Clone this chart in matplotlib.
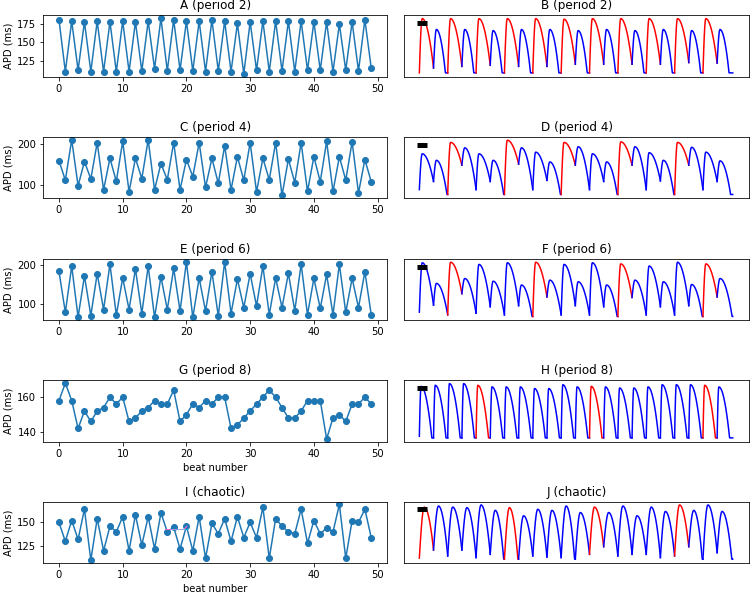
import numpy as np
import matplotlib.pyplot as plt

beats = np.arange(50)

# APD per beat (ms), left column
apd_a = [181, 110, 179, 112, 178, 110, 179, 110, 178, 110, 179, 110, 178, 111, 179, 114,
         183, 111, 181, 112, 179, 111, 179, 110, 181, 111, 179, 110, 176, 107, 178, 112,
         179, 110, 179, 111, 179, 110, 179, 112, 178, 112, 178, 110, 175, 112, 178, 111,
         181, 115]
apd_c = [159, 111, 211, 97, 157, 114, 204, 87, 165, 108, 207, 82, 165, 115, 211, 87,
         152, 112, 204, 87, 162, 120, 204, 93, 165, 103, 196, 87, 169, 111, 204, 82,
         165, 112, 204, 73, 163, 105, 204, 83, 169, 107, 207, 83, 169, 111, 206, 79,
         162, 107]
apd_e = [184, 80, 197, 68, 172, 72, 178, 87, 202, 73, 167, 87, 190, 77, 197, 67,
         170, 87, 191, 83, 208, 67, 167, 83, 183, 71, 208, 77, 164, 92, 178, 96,
         197, 74, 167, 92, 179, 84, 202, 74, 166, 90, 176, 74, 202, 80, 166, 92,
         183, 74]
apd_g = [158, 168, 158, 142, 152, 146, 152, 154, 160, 156, 160, 146, 148, 152, 154, 158,
         156, 156, 164, 146, 150, 156, 154, 158, 156, 160, 160, 142, 144, 148, 152, 156,
         160, 164, 160, 154, 148, 148, 152, 158, 158, 158, 136, 148, 150, 146, 156, 156,
         160, 156]
apd_i = [150, 130, 152, 132, 164, 110, 154, 120, 146, 140, 156, 120, 158, 126, 156, 122,
         160, 140, 145, 122, 146, 120, 156, 112, 149, 138, 154, 130, 156, 134, 150, 134,
         166, 112, 154, 146, 140, 138, 164, 128, 152, 138, 144, 140, 169, 112, 152, 150,
         164, 134]

# voltage traces, right column: one beat per pacing cycle
# peak height and level reached at the next stimulus (normalised), red = highlighted beats
b_peak = [1.0, .80, 1.0, .80, 1.0, .78, 1.0, .80, 1.0, .80, .99, .78, 1.0, .80, 1.0, .78,
          1.0, .80, 1.0, .78, 1.0, .80]
b_end = [.09, 0, .12, 0, .14, 0, .12, 0, .12, 0, .16, 0, .16, 0, .16, 0, .16, 0, .19, 0, .18, 0]
b_red = [0, 2, 4, 6, 8, 10, 12, 14, 16, 18, 20]

d_peak = [.75, .63, .96, .86, .75, .63, 1.0, .86, .78, .60, .96, .88, .75, .60, .97, .88,
          .77, .63, .96, .87, .78, .62]
d_end = [.24, 0, .54, .09, .24, 0, .56, .09, .26, 0, .54, .09, .24, 0, .54, .09,
         .25, 0, .54, .09, .24, 0]
d_red = [2, 6, 10, 14, 18]

f_peak = [.99, .61, 1.0, .70, .96, .65, .99, .58, 1.0, .67, .96, .64, .99, .58, .97, .67,
          .93, .64, 1.0, .59, .97, .70]
f_end = [.21, .03, .42, .06, .18, .03, .20, 0, .36, .03, .20, .03, .18, 0, .35, .03,
         .18, .03, .20, 0, .36, .09]
f_red = [2, 8, 14, 20]

h_peak = [.95, .97, 1.0, 1.0, .97, .94, .94, .94, .91, .91, .98, .94, .95, .94, .92, .92,
          .94, .98, .98, .98, .97, .94]
h_end = [0] * 22
h_red = [4, 12, 20]

j_peak = [.96, .98, .96, .95, 1.0, .90, .95, .80, .92, .90, .98, .86, .96, .86, .98, .80,
          .96, .88, 1.0, .90, 1.0, .88]
j_end = [.17, .06, .17, .03, .09, 0, 0, .06, .04, .03, 0, .09, .23, .06, .09, .09,
         .03, .06, .23, 0, .12, .09]
j_red = [0, 6, 12, 18]

left_panels = [("A (period 2)", apd_a, [125, 150, 175]),
               ("C (period 4)", apd_c, [100, 200]),
               ("E (period 6)", apd_e, [100, 200]),
               ("G (period 8)", apd_g, [140, 160]),
               ("I (chaotic)", apd_i, [125, 150])]
right_panels = [("B (period 2)", b_peak, b_end, b_red, 0.0, 0.2, 0.84),
                ("D (period 4)", d_peak, d_end, d_red, 0.09, 0.2, 0.95),
                ("F (period 6)", f_peak, f_end, f_red, 0.08, 0.2, 0.95),
                ("H (period 8)", h_peak, h_end, h_red, 0.03, 0.12, 0.88),
                ("J (chaotic)", j_peak, j_end, j_red, 0.02, 0.35, 0.95)]


def draw_trace(ax, peaks, ends, red, v0, rise, d0):
    level = v0
    n = len(peaks)
    for i, (p, e) in enumerate(zip(peaks, ends)):
        dur = rise + (1 - rise) / np.sqrt(1 - e / p) if e > 0 else d0
        span = 1.1 if i == n - 1 else 1.0
        s = np.linspace(0, span, 60)
        up = level + (p - level) * np.sin(0.5 * np.pi * np.clip(s / rise, 0, 1))
        u = np.clip((s - rise) / (dur - rise), 0, 1)
        v = np.where(s < rise, up, p * (1 - u ** 2))
        level = p * (1 - min(1.0, (1 - rise) / (dur - rise)) ** 2)
        ax.plot(i + s, v, color="r" if i in red else "b", lw=1.5)
    # scale bar
    ax.plot([-0.14, 0.56], [0.92, 0.92], color="k", lw=5, solid_capstyle="butt", zorder=5)


fig = plt.figure(figsize=(750 / 72, 594 / 72), dpi=72)
bottoms = [0.8709, 0.6662, 0.4608, 0.2564, 0.0522]
h = 0.1032

for k, (title, apd, yt) in enumerate(left_panels):
    ax = fig.add_axes([0.0578, bottoms[k], 0.458, h])
    ax.plot(beats, apd, "o-", color="#1f77b4")
    ax.set_title(title)
    ax.set_ylabel("APD (ms)")
    ax.set_yticks(yt)
    ax.set_xticks([0, 10, 20, 30, 40, 50])
    if k >= 3:
        ax.set_xlabel("beat number")
    if k == 4:
        ax.plot([16.8, 19.6, 20.1], [142.5, 142.5, 146], color="#ff66cc", lw=1)
        ax.plot([17.6, 20.3], [143.2, 143.2], color="cyan", lw=1, ls=":")

for k, (title, pk, en, red, v0, rise, d0) in enumerate(right_panels):
    ax = fig.add_axes([0.5387, bottoms[k], 0.46, h])
    draw_trace(ax, pk, en, red, v0, rise, d0)
    ax.set_title(title)
    ax.set_xticks([])
    ax.set_yticks([])
    ax.set_xlim(-1.08, 23.25)
    ax.set_ylim(-0.07, 1.06)

plt.savefig("out.png", dpi=72)
